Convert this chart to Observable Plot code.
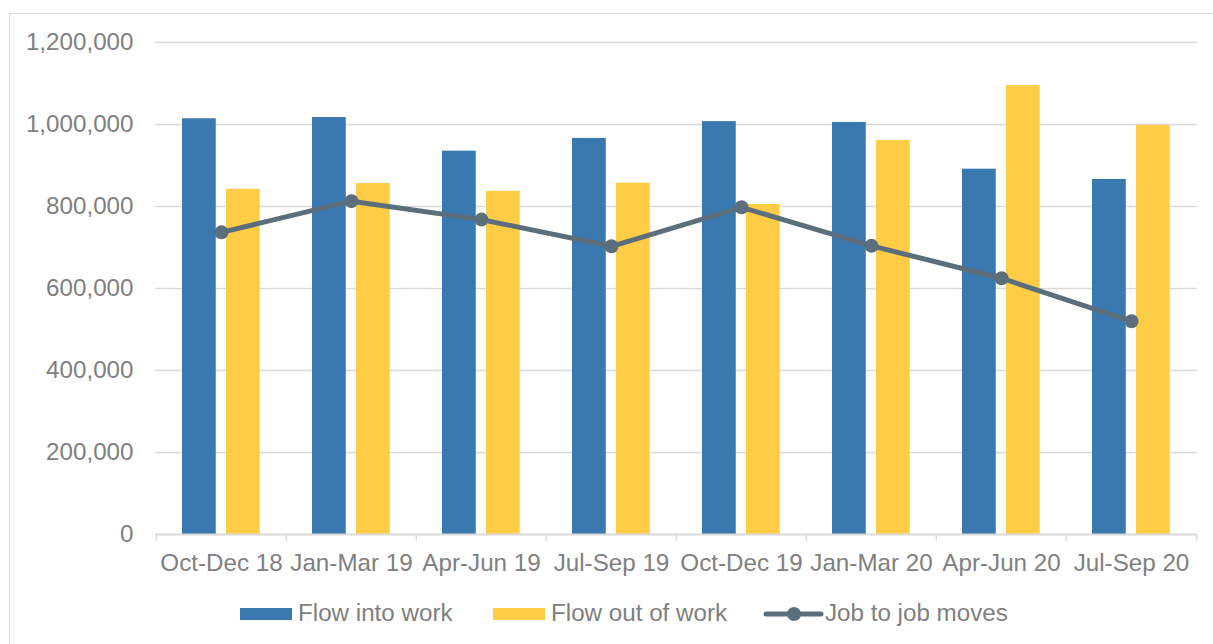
<!DOCTYPE html>
<html>
<head>
<meta charset="utf-8">
<script src="https://cdn.jsdelivr.net/npm/d3@7"></script>
<script src="https://cdn.jsdelivr.net/npm/@observablehq/plot@0.6"></script>
<style>
  html, body { margin: 0; padding: 0; background: #fff; overflow: hidden; }
  #chart { position: relative; width: 1213px; height: 644px; overflow: hidden; font-family: "Liberation Sans", Arial, sans-serif; }
  #frame { position: absolute; left: 9px; top: 13px; width: 1400px; height: 800px; border: 1.5px solid #dcdcdc; }
  #plot { position: absolute; left: 0; top: 0; }
  #legend { position: absolute; left: 0; top: 590px; width: 1213px; height: 54px; font-size: 24.2px; color: #7f7f7f; }
  #legend .label { position: absolute; top: 9px; line-height: 28px; white-space: nowrap; }
</style>
</head>
<body>
<div id="chart">
  <div id="frame"></div>
  <div id="plot"></div>
  <div id="legend"></div>
</div>
<script>
// Quarterly labour-market flows
const quarters = ["Oct-Dec 18", "Jan-Mar 19", "Apr-Jun 19", "Jul-Sep 19", "Oct-Dec 19", "Jan-Mar 20", "Apr-Jun 20", "Jul-Sep 20"];
const flowIntoWork = [1014000, 1017000, 935000, 966000, 1007000, 1005000, 891000, 866000];
const flowOutOfWork = [842000, 856000, 837000, 857000, 805000, 961000, 1095000, 998000];
const jobToJobMoves = [737000, 813000, 768000, 703000, 798000, 704000, 625000, 520000];
const seriesNames = ["Flow into work", "Flow out of work", "Job to job moves"];
const seriesColors = ["#3a79b0", "#ffcd45", "#5b6e7b"];
const yTicks = [0, 200000, 400000, 600000, 800000, 1000000, 1200000];

const rows = quarters.map((q, i) => ({
  quarter: q,
  into: flowIntoWork[i],
  out: flowOutOfWork[i],
  moves: jobToJobMoves[i]
}));

const W = 1213, H = 590;
const mL = 155, mR = 16, mT = 42, mB = 56;
const band = (W - mL - mR) / quarters.length;
const textColor = "#808080";
const gridColor = "#d9d9d9";

const chart = Plot.plot({
  width: W,
  height: H,
  marginLeft: mL,
  marginRight: mR,
  marginTop: mT,
  marginBottom: mB,
  style: { fontFamily: "'Liberation Sans', Arial, sans-serif", fontSize: "24.2px", color: textColor, background: "transparent" },
  x: { domain: quarters, padding: 0, label: null },
  y: { domain: [0, 1200000], label: null },
  marks: [
    Plot.gridY(yTicks.slice(1), { stroke: gridColor, strokeOpacity: 1, strokeWidth: 1.5 }),
    Plot.barY(rows, { x: "quarter", y: "into", fill: seriesColors[0], insetLeft: 26, insetRight: band - 60 }),
    Plot.barY(rows, { x: "quarter", y: "out", fill: seriesColors[1], insetLeft: 70, insetRight: band - 104 }),
    Plot.ruleY([0], { stroke: gridColor, strokeWidth: 2 }),
    // category boundary ticks below the baseline
    Plot.ruleX(quarters, { x: d => d, dx: -band / 2, y1: 0, y2: 0, insetBottom: -7, stroke: gridColor, strokeWidth: 1.5 }),
    Plot.ruleX(quarters.slice(-1), { x: d => d, dx: band / 2, y1: 0, y2: 0, insetBottom: -7, stroke: gridColor, strokeWidth: 1.5 }),
    Plot.line(rows, { x: "quarter", y: "moves", stroke: seriesColors[2], strokeWidth: 5, strokeLinecap: "round", strokeLinejoin: "round" }),
    Plot.dot(rows, { x: "quarter", y: "moves", r: 7, fill: seriesColors[2], stroke: "none" }),
    Plot.axisY({ ticks: yTicks, tickFormat: d3.format(","), tickSize: 0, tickPadding: 22, fill: textColor, label: null }),
    Plot.axisX({ tickSize: 0, tickPadding: 19, fill: textColor, label: null })
  ]
});
document.getElementById("plot").appendChild(chart);

// Legend below the chart
const legend = d3.select("#legend");
const items = [
  { name: seriesNames[0], color: seriesColors[0], type: "box", left: 240, textLeft: 298 },
  { name: seriesNames[1], color: seriesColors[1], type: "box", left: 493, textLeft: 551 },
  { name: seriesNames[2], color: seriesColors[2], type: "line", left: 762, textLeft: 825 }
];
for (const it of items) {
  if (it.type === "box") {
    legend.append("div")
      .style("position", "absolute").style("left", it.left + "px").style("top", "18px")
      .style("width", "52px").style("height", "12px").style("background", it.color);
  } else {
    const s = legend.append("svg")
      .style("position", "absolute").style("left", it.left + "px").style("top", "10px")
      .attr("width", 64).attr("height", 28);
    s.append("line").attr("x1", 4).attr("x2", 59).attr("y1", 14).attr("y2", 14)
      .attr("stroke", it.color).attr("stroke-width", 5).attr("stroke-linecap", "round");
    s.append("circle").attr("cx", 32).attr("cy", 14).attr("r", 7).attr("fill", it.color);
  }
  legend.append("div").attr("class", "label").style("left", it.textLeft + "px").text(it.name);
}
</script>
</body>
</html>
